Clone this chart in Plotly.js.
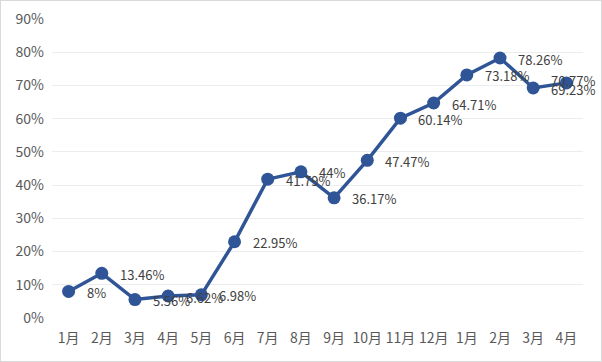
<!DOCTYPE html>
<html>
<head>
<meta charset="utf-8">
<script src="https://cdn.plot.ly/plotly-3.0.1.min.js"></script>
<style>
html,body{margin:0;padding:0;background:#fff;}
#chart{width:600px;height:360px;border:1px solid #d9d9d9;}
</style>
</head>
<body>
<div id="chart"></div>
<script>
var months = ["1月","2月","3月","4月","5月","6月","7月","8月","9月","10月","11月","12月","1月","2月","3月","4月"];
var values = [0.08, 0.1346, 0.0556, 0.0662, 0.0698, 0.2295, 0.4179, 0.44, 0.3617, 0.4747, 0.6014, 0.6471, 0.7318, 0.7826, 0.6923, 0.7077];
var labels = ["8%","13.46%","5.56%","6.62%","6.98%","22.95%","41.79%","44%","36.17%","47.47%","60.14%","64.71%","73.18%","78.26%","69.23%","70.77%"];
var yTicks = [0,0.1,0.2,0.3,0.4,0.5,0.6,0.7,0.8,0.9];
var yTickText = ["0%","10%","20%","30%","40%","50%","60%","70%","80%","90%"];

var idx = months.map(function(_, i){ return i; });

var trace = {
  x: idx,
  y: values,
  type: 'scatter',
  mode: 'lines+markers',
  line: {color: '#2F5597', width: 3.5},
  marker: {color: '#2F5597', size: 13},
  cliponaxis: false,
  hoverinfo: 'none'
};

var annotations = idx.map(function(i){
  var last = (i === idx.length - 1);
  return {
    x: i, y: values[i], xref: 'x', yref: 'y',
    text: labels[i],
    showarrow: false,
    xanchor: 'left', yanchor: 'middle',
    xshift: last ? -17 : 16,
    yshift: last ? 2 : -1,
    font: {family: 'Noto Sans CJK SC, sans-serif', size: 13, color: '#404040'}
  };
});

var layout = {
  width: 600, height: 360,
  margin: {l: 51, r: 18, t: 18, b: 43},
  paper_bgcolor: '#ffffff',
  plot_bgcolor: '#ffffff',
  showlegend: false,
  font: {family: 'Noto Sans CJK SC, sans-serif', color: '#595959', size: 14},
  annotations: annotations,
  xaxis: {
    type: 'linear',
    range: [-0.5, 15.5],
    tickmode: 'array',
    tickvals: idx,
    ticktext: months,
    showgrid: false,
    zeroline: false,
    showline: false,
    ticks: '',
    ticklabelstandoff: 10,
    fixedrange: true
  },
  yaxis: {
    range: [0, 0.9],
    tickmode: 'array',
    tickvals: yTicks,
    ticktext: yTickText,
    showgrid: true,
    gridcolor: '#ececec',
    gridwidth: 1,
    zeroline: false,
    showline: false,
    ticks: '',
    ticklabelstandoff: 7,
    fixedrange: true
  }
};

Plotly.newPlot('chart', [trace], layout, {displayModeBar: false, staticPlot: true});
</script>
</body>
</html>
